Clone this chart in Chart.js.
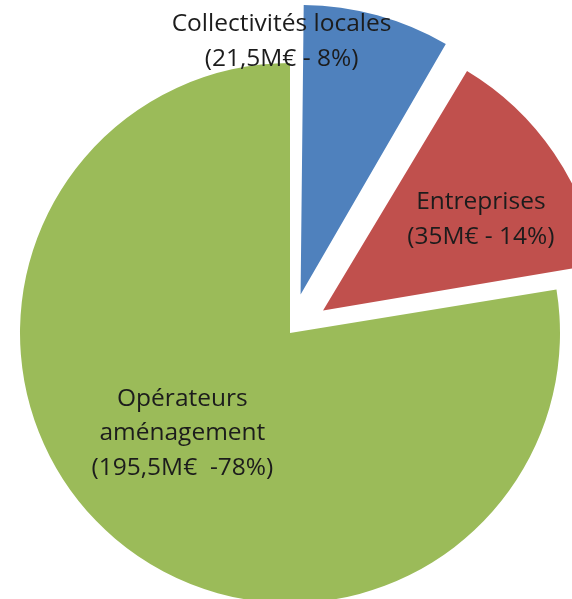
<!DOCTYPE html>
<html>
<head>
<meta charset="utf-8">
<script src="https://cdn.jsdelivr.net/npm/chart.js@4/dist/chart.umd.min.js"></script>
<style>
  html, body { margin: 0; padding: 0; background: #fff; }
  #wrap { width: 572px; height: 599px; position: relative; }
</style>
</head>
<body>
<div id="wrap"><canvas id="pie"></canvas></div>
<script>
  "use strict";

  // data
  const categories = ["Collectivités locales", "Entreprises", "Opérateurs aménagement"];
  const amounts = [21.5, 35, 195.5];           // M€
  const amountLabels = ["21,5M€", "35M€", "195,5M€"];
  const percents = ["8%", "14%", "78%"];

  // label lines as printed on the chart
  const labelLines = [
    ["Collectivités locales", "(" + amountLabels[0] + " - " + percents[0] + ")"],
    ["Entreprises", "(" + amountLabels[1] + " - " + percents[1] + ")"],
    ["Opérateurs", "aménagement", "(" + amountLabels[2] + "  -" + percents[2] + ")"]
  ];

  const colors = ["#4f81bd", "#c0504d", "#9bbb59"];
  const explode = [40, 40, 0];   // px the slice is pulled out
  // where each label sits: angle (deg, clockwise from top) and fraction of radius
  const labelPlace = [
    { angle: -4.3, frac: 0.94 },
    { angle: 60, frac: 0.675 },
    { angle: 227, frac: 0.545 }
  ];

  const FONT = "24.5px 'Open Sans', 'Noto Sans', sans-serif";
  const LINE_H = 34.5;

  const sliceLabels = {
    id: "sliceLabels",
    afterDatasetsDraw(chart) {
      const ctx = chart.ctx;
      const arcs = chart.getDatasetMeta(0).data;
      ctx.save();
      ctx.font = FONT;
      ctx.fillStyle = "#1c1c1c";
      ctx.textAlign = "center";
      ctx.textBaseline = "middle";
      arcs.forEach((arc, i) => {
        const mid = (arc.startAngle + arc.endAngle) / 2;
        const ox = Math.cos(mid) * explode[i];
        const oy = Math.sin(mid) * explode[i];
        const a = (labelPlace[i].angle - 90) * Math.PI / 180;
        const r = arc.outerRadius * labelPlace[i].frac;
        const cx = arc.x + ox + Math.cos(a) * r;
        const cy = arc.y + oy + Math.sin(a) * r;
        const lines = labelLines[i];
        const top = cy - (lines.length - 1) * LINE_H / 2;
        lines.forEach((t, k) => ctx.fillText(t, cx, top + k * LINE_H));
      });
      ctx.restore();
    }
  };

  new Chart(document.getElementById("pie"), {
    type: "pie",
    data: {
      labels: categories,
      datasets: [{
        data: amounts,
        backgroundColor: colors,
        borderWidth: 0,
        // ArcElement moves a slice by offset / 4
        offset: explode.map(v => v * 4),
        clip: false
      }]
    },
    options: {
      responsive: true,
      maintainAspectRatio: false,
      animation: false,
      radius: 270,
      layout: { padding: { left: 8, top: 67, right: 0, bottom: 0 } },
      plugins: {
        legend: { display: false },
        tooltip: { enabled: false }
      }
    },
    plugins: [sliceLabels]
  });
</script>
</body>
</html>
